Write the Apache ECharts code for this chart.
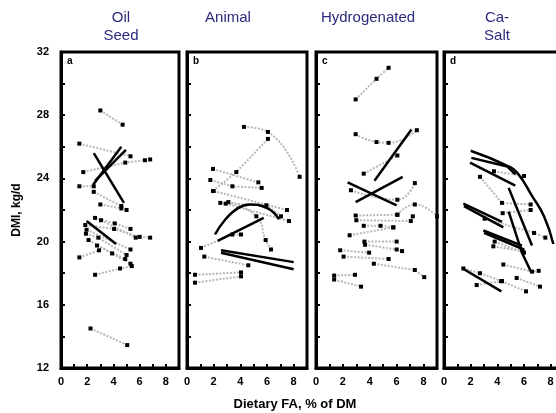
<!DOCTYPE html>
<html>
<head>
<meta charset="utf-8">
<script src="https://cdn.jsdelivr.net/npm/echarts@6/dist/echarts.min.js"></script>
<style>
html, body { margin: 0; padding: 0; background: #fff; }
#chart { width: 556px; height: 413px; }
</style>
</head>
<body>
<div id="chart"></div>
<script>
var panelNames = ['Oil\nSeed', 'Animal', 'Hydrogenated', 'Ca-\nSalt'];
var panelLetters = ['a', 'b', 'c', 'd'];
var xLabels = [0, 2, 4, 6, 8];
var yLabels = [12, 16, 20, 24, 28, 32];

// a - oil seed
var oilSeedGray = [
    [[3.0, 28.3], [4.7, 27.4]],
    [[1.4, 26.2], [5.3, 25.4]],
    [[1.7, 24.4], [4.9, 25.0], [6.4, 25.15], [6.8, 25.2]],
    [[1.4, 23.5], [2.5, 23.5]],
    [[2.5, 23.15], [4.6, 22.25], [5.0, 22.0]],
    [[3.0, 22.35], [4.6, 22.1]],
    [[2.6, 21.5], [4.1, 21.15], [5.3, 20.8]],
    [[3.05, 21.35], [5.7, 20.25]],
    [[1.85, 21.05], [4.05, 20.8], [6.0, 20.3], [6.8, 20.25]],
    [[1.95, 20.75], [5.3, 19.5]],
    [[1.9, 20.5], [2.85, 20.25], [5.0, 19.15]],
    [[2.1, 20.1], [3.9, 19.25], [5.3, 18.6]],
    [[2.75, 19.75], [4.9, 18.9]],
    [[1.4, 19.0], [2.9, 19.45]],
    [[2.6, 17.9], [4.5, 18.3], [5.4, 18.45]],
    [[2.25, 14.5], [5.05, 13.45]]
];
var oilSeedGrayCurves = [];
var oilSeedBlack = [
    [[2.5, 25.6], [4.8, 22.45]],
    [[2.45, 23.6], [4.6, 26.0]],
    [[2.6, 23.85], [4.95, 25.8]],
    [[1.95, 21.3], [4.2, 19.85]]
];
var oilSeedBlackCurves = [];

// b - animal
var animalGray = [
    [[1.95, 23.2], [3.7, 24.4], [6.07, 26.5]],
    [[1.95, 24.6], [5.35, 23.75]],
    [[1.75, 23.9], [3.4, 23.5], [5.6, 23.4]],
    [[2.0, 23.2], [7.5, 22.0]],
    [[2.5, 22.45], [5.95, 22.3], [7.05, 21.6]],
    [[2.9, 22.4], [7.65, 21.3]],
    [[1.05, 19.6], [3.4, 20.45], [4.05, 20.45]],
    [[1.3, 19.05], [4.6, 18.5]],
    [[0.6, 17.9], [4.05, 18.05]],
    [[0.6, 17.4], [4.05, 17.8]]
];
var animalGrayCurves = [
    [[4.27, 27.26], [6.07, 26.94], [8.45, 24.1]],
    [[3.1, 22.5], [5.2, 21.6], [5.9, 20.1], [6.3, 19.5]]
];
var animalBlack = [
    [[2.3, 20.05], [5.75, 21.5]],
    [[2.55, 19.45], [8.0, 18.7]],
    [[2.55, 19.3], [8.0, 18.25]]
];
var animalBlackCurves = [
    [[2.1, 20.45], [4.7, 22.35], [6.05, 22.1], [6.9, 21.4]]
];

// c - hydrogenated
var hydroGray = [
    [[2.95, 29.0], [4.5, 30.3], [5.4, 31.0]],
    [[3.55, 24.3], [6.05, 25.45]],
    [[2.95, 21.65], [6.05, 21.7]],
    [[3.0, 21.35], [7.05, 21.3], [7.2, 21.6]],
    [[3.55, 21.0], [4.8, 21.0], [5.75, 20.9]],
    [[2.5, 20.4], [5.75, 20.9]],
    [[3.6, 20.0], [6.0, 20.0]],
    [[3.65, 19.8], [6.0, 19.5], [6.4, 19.4]],
    [[1.8, 19.45], [3.95, 19.3]],
    [[2.05, 19.05], [5.4, 18.9]],
    [[4.3, 18.6], [7.35, 18.2], [8.05, 17.75]],
    [[1.35, 17.85], [2.9, 17.9]],
    [[1.35, 17.6], [3.35, 17.15]]
];
var hydroGrayCurves = [
    [[2.95, 26.8], [4.5, 26.3], [5.4, 26.25], [7.5, 27.05]],
    [[2.6, 23.25], [6.05, 22.65], [7.35, 23.7]],
    [[6.05, 21.7], [7.35, 22.35], [9.0, 21.6]]
];
var hydroBlack = [
    [[4.35, 23.85], [7.1, 27.1]],
    [[2.35, 23.75], [6.0, 22.3]],
    [[2.95, 22.5], [6.45, 24.1]]
];
var hydroBlackCurves = [];

// d - Ca-salt
var caSaltGray = [
    [[3.75, 24.45], [6.0, 24.15]],
    [[2.7, 24.1], [4.35, 22.45], [6.5, 22.35]],
    [[4.4, 21.8], [6.5, 22.0]],
    [[3.05, 21.45], [6.75, 20.55], [7.6, 20.25]],
    [[3.8, 20.0], [6.0, 19.3]],
    [[3.7, 19.7], [5.9, 19.4]],
    [[4.45, 18.55], [6.6, 18.1], [7.1, 18.15]],
    [[1.45, 18.3], [2.7, 18.0], [4.35, 17.5]],
    [[2.45, 17.25], [4.3, 17.5]],
    [[5.45, 17.7], [7.2, 17.15]],
    [[4.3, 17.5], [6.15, 16.85]]
];
var caSaltGrayCurves = [];
var caSaltBlack = [
    [[2.05, 25.3], [4.75, 24.75], [5.35, 24.25]],
    [[1.95, 25.0], [5.35, 23.55]],
    [[1.45, 22.4], [4.35, 21.25]],
    [[1.5, 22.25], [4.45, 20.9]],
    [[4.85, 23.4], [6.6, 19.75]],
    [[4.85, 21.9], [5.85, 19.3], [6.55, 18.05]],
    [[2.95, 20.7], [5.85, 19.75]],
    [[3.0, 20.55], [6.0, 19.5]],
    [[1.4, 18.3], [4.3, 16.85]]
];
var caSaltBlackCurves = [
    [[2.0, 25.75], [4.75, 24.8], [5.5, 24.35], [6.6, 22.9], [7.5, 21.6], [8.2, 19.85]]
];

var panels = [
    { gray: oilSeedGray, grayCurves: oilSeedGrayCurves, black: oilSeedBlack, blackCurves: oilSeedBlackCurves },
    { gray: animalGray, grayCurves: animalGrayCurves, black: animalBlack, blackCurves: animalBlackCurves },
    { gray: hydroGray, grayCurves: hydroGrayCurves, black: hydroBlack, blackCurves: hydroBlackCurves },
    { gray: caSaltGray, grayCurves: caSaltGrayCurves, black: caSaltBlack, blackCurves: caSaltBlackCurves }
];

var gridLefts = [61, 187, 316, 444];
var gridWidths = [118, 120, 121, 120];
var titleCenters = [121, 228, 368, 497];
var FONT = 'Liberation Sans, Arial, sans-serif';

var chart = echarts.init(document.getElementById('chart'));

var grids = [], xAxes = [], yAxes = [], series = [], graphics = [];

function grayLine(pts, i, smooth) {
    return {
        type: 'line', xAxisIndex: i, yAxisIndex: i, data: pts,
        smooth: smooth ? 0.5 : false,
        symbol: 'rect', symbolSize: 4,
        itemStyle: { color: '#000' },
        lineStyle: { color: '#b8b8b8', width: 2, type: [2, 1.5] },
        z: 2, silent: true
    };
}
function blackLine(pts, i, smooth) {
    return {
        type: 'line', xAxisIndex: i, yAxisIndex: i, data: pts,
        smooth: smooth ? 0.5 : false,
        symbol: 'none',
        lineStyle: { color: '#000', width: 2.5 },
        z: 3, silent: true
    };
}

panels.forEach(function (p, i) {
    grids.push({
        left: gridLefts[i], width: gridWidths[i], top: 52, bottom: 45,
        outerBoundsMode: 'none',
        show: true, borderColor: '#000', borderWidth: 3, backgroundColor: 'transparent'
    });
    xAxes.push({
        gridIndex: i, type: 'value', min: 0, max: 9, interval: 1,
        axisLine: { lineStyle: { color: '#000', width: 3 } },
        axisTick: { inside: true, length: 4, lineStyle: { color: '#000', width: 2 } },
        axisLabel: {
            margin: 8, color: '#000', fontWeight: 'bold', fontSize: 11, fontFamily: FONT,
            formatter: function (v) { return xLabels.indexOf(v) >= 0 ? String(v) : ''; }
        },
        splitLine: { show: false }
    });
    yAxes.push({
        gridIndex: i, type: 'value', min: 12, max: 32, interval: 2,
        name: i === 0 ? 'DMI, kg/d' : '',
        nameLocation: 'middle', nameGap: 38,
        nameTextStyle: { color: '#000', fontWeight: 'bold', fontSize: 12, fontFamily: FONT },
        axisLine: { lineStyle: { color: '#000', width: 3 } },
        axisTick: { inside: true, length: 4, lineStyle: { color: '#000', width: 2 } },
        axisLabel: {
            show: i === 0, margin: 12, color: '#000', fontWeight: 'bold', fontSize: 11, fontFamily: FONT,
            formatter: function (v) { return yLabels.indexOf(v) >= 0 ? String(v) : ''; }
        },
        splitLine: { show: false }
    });
    p.gray.forEach(function (s) { series.push(grayLine(s, i, false)); });
    p.grayCurves.forEach(function (s) { series.push(grayLine(s, i, true)); });
    p.black.forEach(function (s) { series.push(blackLine(s, i, false)); });
    p.blackCurves.forEach(function (s) { series.push(blackLine(s, i, true)); });

    graphics.push({
        type: 'text', left: gridLefts[i] + 6, top: 56, z: 10,
        style: { text: panelLetters[i], font: 'bold 10px ' + FONT, fill: '#000' }
    });
    graphics.push({
        type: 'text', x: titleCenters[i], y: 9, z: 10,
        style: {
            text: panelNames[i], font: '15px ' + FONT, fill: '#2b2b7e',
            textAlign: 'center', lineHeight: 18
        }
    });
});

graphics.push({
    type: 'text', x: 295, y: 398, z: 10,
    style: { text: 'Dietary FA, % of DM', font: 'bold 13px ' + FONT, fill: '#000', textAlign: 'center' }
});

chart.setOption({
    animation: false,
    backgroundColor: '#fff',
    grid: grids,
    xAxis: xAxes,
    yAxis: yAxes,
    series: series,
    graphic: graphics
});
</script>
</body>
</html>
